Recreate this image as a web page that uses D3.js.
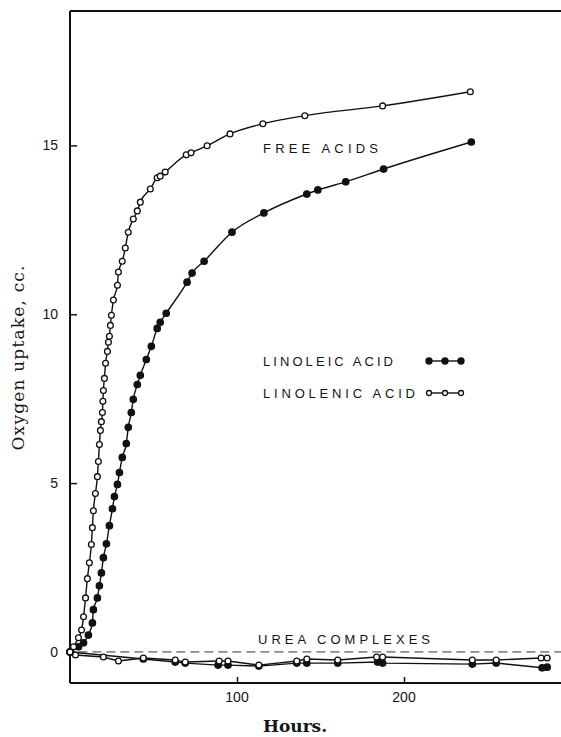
<!DOCTYPE html>
<html>
<head>
<meta charset="utf-8">
<script src="https://cdn.jsdelivr.net/npm/d3@7"></script>
<style>
  body { margin: 0; background: #fff; }
  svg { display: block; }
  .lett { font-family: "Liberation Sans", "DejaVu Sans", sans-serif; fill: #151515; }
  .serif { font-family: "DejaVu Serif", "Liberation Serif", serif; fill: #151515; }
</style>
</head>
<body>
<svg id="chart" width="561" height="737"></svg>
<script>
// free acids
const linolenicHours = [0,2.1,5.1,6.9,8.1,9.3,10.4,11.6,12.8,13.4,14.0,15.2,16.4,17.0,17.6,18.2,18.8,19.4,19.7,20.0,20.6,21.3,22.4,23.0,23.6,24.2,24.8,26.0,28.4,29.0,31.3,33.1,34.9,37.9,40.3,42.1,48.1,52.2,54.0,57.0,69.6,72.5,82.1,95.8,115.5,140.6,187.2,239.7];
const linolenicO2 = [0,0.15,0.42,0.65,1.04,1.60,2.17,2.64,3.18,3.68,4.18,4.69,5.19,5.64,6.14,6.56,6.82,7.09,7.42,7.74,8.10,8.55,8.90,9.17,9.35,9.67,9.97,10.42,10.86,11.25,11.57,11.96,12.43,12.82,13.06,13.32,13.71,14.04,14.09,14.21,14.72,14.78,14.99,15.34,15.64,15.88,16.17,16.59];

const linoleicHours = [0,5.1,8.1,11.0,13.4,14.0,16.4,17.6,18.8,20.0,21.8,23.6,25.4,26.6,28.4,29.6,31.3,33.7,34.9,36.7,37.9,40.3,42.1,45.7,48.7,52.2,54.0,57.6,70.1,73.1,80.3,97.0,116.1,141.8,148.4,165.1,187.8,240.3];
const linoleicO2 = [0,0.15,0.27,0.50,0.86,1.25,1.60,1.96,2.34,2.79,3.20,3.74,4.24,4.60,4.96,5.31,5.76,6.17,6.65,7.09,7.48,7.92,8.19,8.66,9.05,9.58,9.76,10.03,10.95,11.22,11.57,12.43,13.00,13.56,13.68,13.92,14.30,15.10];

// urea complexes
const ureaLinolenicHours = [0,3.3,20.0,29.0,43.9,63.0,69.0,89.3,94.6,113.1,135.8,141.8,160.3,183.6,187.2,240.9,255.2,282.1,285.7];
const ureaLinolenicO2 = [0,-0.09,-0.15,-0.27,-0.18,-0.24,-0.30,-0.27,-0.27,-0.39,-0.27,-0.21,-0.24,-0.15,-0.15,-0.24,-0.24,-0.18,-0.18];
const ureaLinoleicHours = [0,43.9,63.0,69.0,88.7,94.6,113.1,135.8,141.8,160.3,184.2,187.2,240.9,255.2,282.7,285.7];
const ureaLinoleicO2 = [0,-0.21,-0.30,-0.33,-0.39,-0.39,-0.42,-0.33,-0.33,-0.33,-0.30,-0.33,-0.36,-0.33,-0.47,-0.45];

const baselineHours = [5, 294];
const yTicks = [0, 5, 10, 15];
const xTicks = [100, 200];

const svg = d3.select("#chart");
const x = d3.scaleLinear().domain([0, 294]).range([70, 561]);
const y = d3.scaleLinear().domain([-0.92, 18.98]).range([683, 11]);

function zip(hs, vs) {
	return hs.map(function(h, i) { return { h: h, v: vs[i] }; });
}

// frame
svg.append("line").attr("x1", 70).attr("x2", 561).attr("y1", y(18.98)).attr("y2", y(18.98))
	.attr("stroke", "#111").attr("stroke-width", 2.2);
svg.append("line").attr("x1", 70).attr("x2", 561).attr("y1", y(-0.92)).attr("y2", y(-0.92))
	.attr("stroke", "#111").attr("stroke-width", 2);

const yAxis = svg.append("g").attr("transform", "translate(70,0)")
	.call(d3.axisRight(y).tickValues(yTicks).tickSize(7).tickFormat(""));
yAxis.select(".domain").attr("stroke", "#111").attr("stroke-width", 2).attr("d", "M0,11V683");
yAxis.selectAll(".tick line").attr("stroke", "#111").attr("stroke-width", 1.5);

svg.selectAll(".ylab").data(yTicks).enter().append("text")
	.attr("class", "lett")
	.attr("x", 58).attr("y", function(d) { return y(d) + 5; })
	.attr("text-anchor", "end").attr("font-size", 14)
	.text(function(d) { return d; });

const xAxis = svg.append("g").attr("transform", "translate(0,683)")
	.call(d3.axisTop(x).tickValues(xTicks).tickSize(6).tickFormat(""));
xAxis.select(".domain").remove();
xAxis.selectAll(".tick line").attr("stroke", "#111").attr("stroke-width", 1.5);

svg.selectAll(".xlab").data(xTicks).enter().append("text")
	.attr("class", "lett")
	.attr("x", function(d) { return x(d); }).attr("y", 702)
	.attr("text-anchor", "middle").attr("font-size", 14)
	.text(function(d) { return d; });

// titles
svg.append("text").attr("class", "serif")
	.attr("transform", "translate(24,358) rotate(-90)")
	.attr("text-anchor", "middle").attr("font-size", 17)
	.attr("textLength", 185).attr("lengthAdjust", "spacing")
	.text("Oxygen uptake, cc.");
svg.append("text").attr("class", "serif")
	.attr("x", 295).attr("y", 732)
	.attr("text-anchor", "middle").attr("font-size", 17).attr("font-weight", "bold")
	.text("Hours.");

// dashed baseline for urea complexes
svg.append("path")
	.datum(zip(baselineHours, [0, 0]))
	.attr("d", d3.line().x(function(d) { return x(d.h); }).y(function(d) { return y(d.v); }))
	.attr("fill", "none").attr("stroke", "#333").attr("stroke-width", 1)
	.attr("stroke-dasharray", "9,5");

const smooth = d3.line().curve(d3.curveMonotoneX)
	.x(function(d) { return x(d.h); }).y(function(d) { return y(d.v); });
const straight = d3.line()
	.x(function(d) { return x(d.h); }).y(function(d) { return y(d.v); });

const series = [
	{ data: zip(ureaLinoleicHours, ureaLinoleicO2), filled: true, line: straight },
	{ data: zip(ureaLinolenicHours, ureaLinolenicO2), filled: false, line: straight },
	{ data: zip(linoleicHours, linoleicO2), filled: true, line: smooth },
	{ data: zip(linolenicHours, linolenicO2), filled: false, line: smooth }
];

series.forEach(function(s) {
	svg.append("path").datum(s.data)
		.attr("d", s.line)
		.attr("fill", "none").attr("stroke", "#111").attr("stroke-width", 1.4);
	svg.append("g").selectAll("circle").data(s.data).enter().append("circle")
		.attr("cx", function(d) { return x(d.h); })
		.attr("cy", function(d) { return y(d.v); })
		.attr("r", s.filled ? 3.2 : 2.9)
		.attr("fill", s.filled ? "#111" : "#fff")
		.attr("stroke", "#111").attr("stroke-width", 1.3);
});

// labels
svg.append("text").attr("class", "lett").attr("x", 263).attr("y", 153)
	.attr("font-size", 13).attr("textLength", 115).attr("lengthAdjust", "spacing")
	.text("FREE  ACIDS");
svg.append("text").attr("class", "lett").attr("x", 258).attr("y", 644)
	.attr("font-size", 13).attr("textLength", 172).attr("lengthAdjust", "spacing")
	.text("UREA  COMPLEXES");

const legend = [
	{ label: "LINOLEIC  ACID", filled: true, y: 366, len: 130 },
	{ label: "LINOLENIC  ACID", filled: false, y: 398, len: 152 }
];
legend.forEach(function(l) {
	svg.append("text").attr("class", "lett").attr("x", 263).attr("y", l.y)
		.attr("font-size", 13).attr("textLength", l.len).attr("lengthAdjust", "spacing")
		.text(l.label);
	const cy = l.y - 5;
	const pts = [429, 445, 461];
	svg.append("line").attr("x1", pts[0]).attr("x2", pts[2]).attr("y1", cy).attr("y2", cy)
		.attr("stroke", "#111").attr("stroke-width", 1.4);
	svg.append("g").selectAll("circle").data(pts).enter().append("circle")
		.attr("cx", function(d) { return d; }).attr("cy", cy)
		.attr("r", l.filled ? 3 : 2.5)
		.attr("fill", l.filled ? "#111" : "#fff")
		.attr("stroke", "#111").attr("stroke-width", 1.3);
});
</script>
</body>
</html>
